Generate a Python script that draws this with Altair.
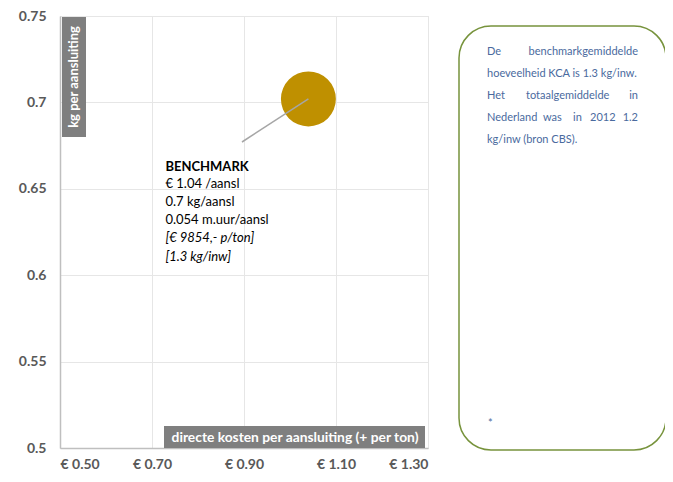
import altair as alt
import pandas as pd

# ---- data ----
names = ["BENCHMARK"]
cost_per_conn = [1.04]      # € per aansluiting
kg_per_conn = [0.702]       # kg per aansluiting (as plotted)
hours_per_conn = [0.054]    # m.uur per aansluiting

x_ticks = [0.50, 0.70, 0.90, 1.10, 1.30]
y_ticks = [0.5, 0.55, 0.6, 0.65, 0.7, 0.75]

label_normal = ["€ 1.04 /aansl", "0.7 kg/aansl", "0.054 m.uur/aansl"]
label_italic = ["[€ 9854,- p/ton]", "[1.3 kg/inw]"]

panel_words = [
    ("De", 427, 36, "left"), ("benchmarkgemiddelde", 578, 36, "right"),
    ("hoeveelheid KCA is 1.3 kg/inw.", 427, 58, "left"),
    ("Het", 427, 80, "left"), ("totaalgemiddelde", 466, 80, "left"), ("in", 578, 80, "right"),
    ("Nederland", 427, 102, "left"), ("was", 483, 102, "left"), ("in", 513, 102, "left"),
    ("2012", 530, 102, "left"), ("1.2", 578, 102, "right"),
    ("kg/inw (bron CBS).", 427, 124, "left"),
    ("*", 428, 408, "left"),
]

df = pd.DataFrame({"name": names, "x": cost_per_conn, "y": kg_per_conn, "h": hours_per_conn})
pw = pd.DataFrame(panel_words, columns=["w", "px", "py", "al"])

W, H = 368, 432
FONT = "Lato"

xs = alt.Scale(domain=[0.5, 1.3], nice=False, zero=False)
ys = alt.Scale(domain=[0.5, 0.75], nice=False, zero=False)

base = alt.Chart(df)

points = base.mark_circle(color="#bf9000", opacity=1).encode(
    x=alt.X("x:Q", scale=xs, title=None,
            axis=alt.Axis(values=x_ticks, labelExpr="'€ ' + format(datum.value, '.2f')",
                          grid=True, gridColor="#e6e6e6", domainColor="#bfbfbf", domainWidth=1.5,
                          ticks=False, labelPadding=9, labelFont=FONT, labelFontSize=14,
                          labelFontWeight="bold", labelColor="#595959")),
    y=alt.Y("y:Q", scale=ys, title=None,
            axis=alt.Axis(values=y_ticks, labelExpr="format(datum.value, '.2~f')",
                          grid=True, gridColor="#e6e6e6", domainColor="#bfbfbf", domainWidth=1.5,
                          ticks=False, labelPadding=14, labelFont=FONT, labelFontSize=14,
                          labelFontWeight="bold", labelColor="#595959")),
    size=alt.Size("h:Q", scale=alt.Scale(domain=[0, 0.054], range=[0, 3020], nice=False), legend=None),
)

leader = base.mark_rule(color="#a6a6a6", strokeWidth=1.5).encode(
    x=alt.X("x:Q", scale=xs), y=alt.Y("y:Q", scale=ys),
    x2=alt.value(182), y2=alt.value(126),
)

title_lbl = base.mark_text(align="left", baseline="middle", font=FONT, fontSize=13,
                           fontWeight="bold", color="#000000", dx=-143, dy=68).encode(
    x=alt.X("x:Q", scale=xs), y=alt.Y("y:Q", scale=ys), text="name:N")

normal_lbl = base.mark_text(align="left", baseline="middle", font=FONT, fontSize=13,
                            color="#000000", lineHeight=18, dx=-143, dy=85).encode(
    x=alt.X("x:Q", scale=xs), y=alt.Y("y:Q", scale=ys),
    text=alt.value(label_normal))

italic_lbl = base.mark_text(align="left", baseline="middle", font=FONT, fontSize=13,
                            fontStyle="italic", color="#000000", lineHeight=19, dx=-143, dy=139).encode(
    x=alt.X("x:Q", scale=xs), y=alt.Y("y:Q", scale=ys),
    text=alt.value(label_italic))

# axis title boxes
ybox = base.mark_rect(color="#7f7f7f").encode(
    x=alt.value(2), x2=alt.value(26), y=alt.value(1), y2=alt.value(121))
ytxt = base.mark_text(angle=270, font=FONT, fontSize=13, fontWeight="bold", color="white",
                      align="center", baseline="middle").encode(
    x=alt.value(14), y=alt.value(61), text=alt.value("kg per aansluiting"))
xbox = base.mark_rect(color="#7f7f7f").encode(
    x=alt.value(104), x2=alt.value(365), y=alt.value(410), y2=alt.value(432))
xtxt = base.mark_text(font=FONT, fontSize=13.8, fontWeight="bold", color="white",
                      align="center", baseline="middle").encode(
    x=alt.value(235), y=alt.value(422),
    text=alt.value("directe kosten per aansluiting (+ per ton)"))

# side panel
panel = base.mark_rect(cornerRadius=32, fill="white", stroke="#77933c", strokeWidth=1.5).encode(
    x=alt.value(399), x2=alt.value(606), y=alt.value(10), y2=alt.value(434))

ptxt_left = alt.Chart(pw).transform_filter("datum.al == 'left'").mark_text(
    align="left", baseline="middle", font=FONT, fontSize=11, color="#4a6a9e").encode(
    x=alt.X("px:Q", scale=None), y=alt.Y("py:Q", scale=None), text="w:N")
ptxt_right = alt.Chart(pw).transform_filter("datum.al == 'right'").mark_text(
    align="right", baseline="middle", font=FONT, fontSize=11, color="#4a6a9e").encode(
    x=alt.X("px:Q", scale=None), y=alt.Y("py:Q", scale=None), text="w:N")

chart = alt.layer(
    points, leader, title_lbl, normal_lbl, italic_lbl, ybox, ytxt, xbox, xtxt, panel,
    ptxt_left, ptxt_right
).properties(
    width=W, height=H,
    autosize=alt.AutoSizeParams(type="none"),
    padding={"left": 52, "top": 8, "right": 237, "bottom": 26},
).configure_view(stroke="#e6e6e6").configure(background="white")

chart.save("out.html", embed_options={"renderer": "svg", "actions": False})
